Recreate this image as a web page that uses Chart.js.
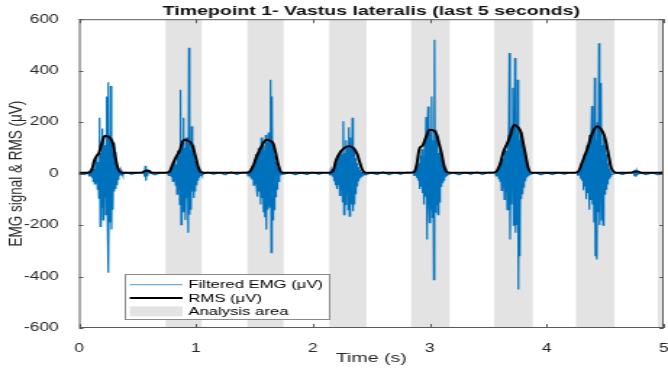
<!DOCTYPE html>
<html>
<head>
<meta charset="utf-8">
<script src="https://cdn.jsdelivr.net/npm/chart.js@4.4.1/dist/chart.umd.min.js"></script>
<style>
  html, body { margin: 0; padding: 0; background: #fff; }
  #chartArea { display: block; }
</style>
</head>
<body>
<!-- the source figure is stretched sideways, so the canvas is drawn narrow and widened by css -->
<canvas id="chartArea" width="461" height="374" style="width:668px;height:374px"></canvas>
<script>
'use strict'

// axis ticks
const xTicks = [0, 1, 2, 3, 4, 5];
const yTicks = [-600, -400, -200, 0, 200, 400, 600];

// grey analysis windows (s)
const bandStart = [0.74, 1.44, 2.14, 2.84, 3.55, 4.25, 4.95];
const bandEnd = [1.05, 1.75, 2.46, 3.17, 3.88, 4.58, 5.0];

// filtered EMG between contractions, one value every 0.05 s from 0 to 5 s
const baseStep = 0.05;
const baseline = [
    3, -4, 5, -3, 4, -5, 3, -4, 5, -3,
    4, -4, 3, -5, 3, -4, 5, -3, 4, -5,
    3, -4, 5, -3, 4, -5, 6, -4, 5, -3,
    4, -5, 3, -4, 5, -3, 4, -5, 3, -4,
    5, -3, 4, -5, 3, -4, 5, -3, 4, -5,
    3, -4, 6, -5, 4, -3, 5, -4, 3, -5,
    4, -3, 5, -4, 3, -5, 4, -3, 6, -4,
    5, -3, 4, -5, 3, -4, 5, -3, 4, -5,
    3, -4, 5, -3, 4, -5, 3, -4, 5, -3,
    4, -5, 3, -4, 5, -4, 3, -4, 3, -5,
    8
];

// filtered EMG during the 7 contractions (and two small blips), one value every 6 ms from burstStart
const burstStep = 0.006;
const burstStart = [0.08, 0.555, 0.76, 1.44, 2.14, 2.86, 3.56, 4.26, 4.745];
const burst1 = [
    6, -9, 12, -8, 20, -14, 26, -30, 18, -40,
    55, -35, 70, -60, 45, -95, 217, -205, 80, -130,
    175, -180, 140, -90, 110, -160, 300, -120, 355, -385,
    150, -190, 340, -217, 90, -140, 120, -70, 85, -60,
    30, -45, 20, -25, 12, -8, 10, -6, 5, -4
];
const blip1 = [6, -12, 30, -28, 18, -10, 5];
const burst2 = [
    5, -7, 10, -6, 18, -12, 22, -30, 40, -25,
    55, -45, 35, -80, 90, -60, 70, -120, 326, -198,
    130, -80, 217, -150, 100, -180, 140, -95, 120, -230,
    489, -160, 90, -140, 184, -70, 110, -95, 50, -70,
    35, -45, 20, -28, 10, -16, 6, -9, 4, -4
];
const burst3 = [
    5, -9, 12, -7, 20, -16, 30, -22, 25, -45,
    55, -38, 75, -50, 60, -90, 100, -70, 85, -120,
    140, -95, 110, -150, 90, -170, 150, -217, 120, -140,
    160, -110, -130, 365, -307, 300, -180, 110, -140, 70,
    -90, 45, -60, 25, -30, 12, -15, 8, -6, 4
];
const burst4 = [
    4, -7, 10, -6, 16, -12, 20, -30, 28, -45,
    40, -60, 70, -45, 55, -85, 90, -60, 75, -110,
    203, -160, 80, -120, 130, -75, 100, -140, 180, -165,
    140, -90, -120, 217, -146, 90, -120, 60, -80, 40,
    -50, 25, -30, 14, -18, 8, -10, 6, -5, 3
];
const burst5 = [
    6, -9, 12, -8, 22, -18, 35, -28, 40, -60,
    70, -50, 95, -75, 60, -120, 130, -90, 220, -256,
    150, 261, -120, -191, 160, -140, 300, -170, 130, -412,
    520, -150, 170, -120, 140, -160, 80, -110, 90, -50,
    65, -35, 40, -25, 22, -12, 12, -7, 5, -4
];
const burst6 = [
    6, -9, 12, -8, 24, -20, 40, -30, 35, -65,
    75, -50, 60, -100, 110, -70, 90, -140, 150, -100,
    469, -256, 140, -120, 180, 334, -200, -160, 449, -230,
    150, -200, 365, -450, 130, -321, 160, -100, 120, -80,
    95, -55, 60, -30, 35, -15, 18, -10, 7, -4
];
const burst7 = [
    5, -8, 12, -7, 22, -20, 40, -28, 35, -65,
    75, -50, 60, -100, 110, -75, 95, -140, 150, -100,
    140, 263, -120, 170, -190, 372, -321, 130, -334, 200,
    -150, 507, -200, 130, 352, -180, 110, -200, 140, -80,
    110, -60, 75, -40, 40, -20, 20, -12, 8, -5
];
const blip2 = [4, -10, 15, -12, 8, -4];
const bursts = [burst1, blip1, burst2, burst3, burst4, burst5, burst6, burst7, blip2];

// RMS envelope
const rmsTime = [
    0, 0.06, 0.09, 0.11, 0.13, 0.15, 0.17, 0.19, 0.21, 0.23, 0.25, 0.27, 0.29, 0.31, 0.33, 0.35, 0.38,
    0.54, 0.56, 0.60, 0.62,
    0.74, 0.77, 0.80, 0.83, 0.86, 0.88, 0.90, 0.93, 0.96, 0.98, 1.00, 1.02, 1.04, 1.07,
    1.43, 1.46, 1.49, 1.52, 1.55, 1.58, 1.60, 1.63, 1.66, 1.68, 1.70, 1.72, 1.74,
    2.14, 2.17, 2.20, 2.23, 2.27, 2.31, 2.35, 2.38, 2.40, 2.42, 2.45,
    2.84, 2.87, 2.89, 2.91, 2.94, 2.97, 3.00, 3.03, 3.06, 3.08, 3.10, 3.12, 3.14, 3.17,
    3.54, 3.57, 3.60, 3.63, 3.66, 3.69, 3.72, 3.75, 3.78, 3.80, 3.82, 3.84, 3.87,
    4.24, 4.27, 4.30, 4.33, 4.35, 4.38, 4.41, 4.43, 4.46, 4.49, 4.51, 4.53, 4.55, 4.58, 4.60,
    4.72, 4.75, 4.78, 4.81, 4.97, 5.0
];
const rmsValue = [
    3, 3, 5, 15, 50, 68, 80, 110, 140, 147, 143, 137, 118, 67, 25, 7, 3,
    3, 10, 11, 3,
    3, 6, 35, 65, 88, 115, 132, 128, 118, 95, 60, 25, 6, 3,
    3, 6, 30, 67, 95, 122, 132, 128, 118, 85, 42, 12, 3,
    3, 8, 54, 80, 100, 106, 98, 75, 45, 18, 3,
    3, 8, 40, 95, 110, 145, 170, 168, 150, 115, 80, 35, 8, 3,
    3, 8, 35, 85, 115, 150, 190, 182, 160, 115, 70, 25, 3,
    3, 8, 40, 75, 100, 145, 175, 184, 175, 150, 115, 70, 25, 5, 3,
    3, 8, 8, 3, 3, 5
];

const FONT = '"Liberation Sans", Arial, Helvetica, sans-serif';
Chart.defaults.font.family = FONT;
Chart.defaults.color = '#262626';

function buildEmg() {
    let pts = [];
    for (let i = 0; i < baseline.length; i++) {
        let t = i * baseStep;
        let inBurst = false;
        for (let b = 0; b < burstStart.length; b++) {
            let end = burstStart[b] + (bursts[b].length - 1) * burstStep;
            if (t >= burstStart[b] - 0.01 && t <= end + 0.01) {
                inBurst = true;
            }
        }
        if (!inBurst) {
            pts.push({x: t, y: baseline[i]});
        }
    }
    for (let b = 0; b < bursts.length; b++) {
        for (let k = 0; k < bursts[b].length; k++) {
            pts.push({x: burstStart[b] + k * burstStep, y: bursts[b][k]});
        }
    }
    pts.sort((a, b) => a.x - b.x);
    return pts;
}

function buildRms() {
    let pts = [];
    for (let i = 0; i < rmsTime.length; i++) {
        pts.push({x: rmsTime[i], y: rmsValue[i]});
    }
    return pts;
}

// grey windows behind the signal
const bandsPlugin = {
    id: 'bands',
    beforeDatasetsDraw(chart) {
        const {ctx, chartArea, scales} = chart;
        ctx.save();
        ctx.fillStyle = '#e3e3e3';
        for (let i = 0; i < bandStart.length; i++) {
            let x0 = scales.x.getPixelForValue(bandStart[i]);
            let x1 = scales.x.getPixelForValue(bandEnd[i]);
            ctx.fillRect(x0, chartArea.top, x1 - x0, chartArea.bottom - chartArea.top);
        }
        ctx.restore();
    }
};

// matlab style box with inward ticks
const boxPlugin = {
    id: 'box',
    afterDatasetsDraw(chart) {
        const {ctx, chartArea: a, scales} = chart;
        ctx.save();
        ctx.strokeStyle = '#5a5a5a';
        ctx.lineWidth = 1;
        ctx.strokeRect(a.left + 0.5, a.top + 0.5, a.right - a.left - 1, a.bottom - a.top - 1);
        ctx.beginPath();
        xTicks.forEach(v => {
            let px = Math.round(scales.x.getPixelForValue(v)) + 0.5;
            ctx.moveTo(px, a.bottom); ctx.lineTo(px, a.bottom - 4);
            ctx.moveTo(px, a.top); ctx.lineTo(px, a.top + 4);
        });
        yTicks.forEach(v => {
            let py = Math.round(scales.y.getPixelForValue(v)) + 0.5;
            ctx.moveTo(a.left, py); ctx.lineTo(a.left + 3, py);
            ctx.moveTo(a.right, py); ctx.lineTo(a.right - 3, py);
        });
        ctx.stroke();
        ctx.restore();
    }
};

// boxed legend in the lower left corner of the axes
const legendPlugin = {
    id: 'boxLegend',
    afterDraw(chart) {
        const {ctx, chartArea: a} = chart;
        const items = chart.data.datasets.map(d => ({label: d.label, type: 'line', color: d.legendColor, width: d.legendWidth}));
        items.push({label: 'Analysis area', type: 'patch', color: '#e3e3e3'});
        ctx.save();
        ctx.font = '11.5px ' + FONT;
        let textW = 0;
        items.forEach(it => { textW = Math.max(textW, ctx.measureText(it.label).width); });
        const pad = 4, lineLen = 36.5, gap = 4, rowH = 13.3;
        const w = pad + lineLen + gap + textW + pad;
        const h = 45;
        const left = a.left + 31;
        const top = a.bottom - 9 - h;
        ctx.fillStyle = '#fff';
        ctx.fillRect(left, top, w, h);
        ctx.strokeStyle = '#8a8a8a';
        ctx.lineWidth = 1;
        ctx.strokeRect(Math.round(left) + 0.5, Math.round(top) + 0.5, Math.round(w), Math.round(h));
        items.forEach((it, i) => {
            let cy = top + 10.7 + i * rowH;
            let x0 = left + pad;
            if (it.type === 'line') {
                ctx.strokeStyle = it.color;
                ctx.lineWidth = it.width;
                ctx.beginPath();
                ctx.moveTo(x0, cy);
                ctx.lineTo(x0 + lineLen, cy);
                ctx.stroke();
            } else {
                ctx.fillStyle = it.color;
                ctx.fillRect(x0, cy - 5, lineLen, 10);
            }
            ctx.fillStyle = '#000';
            ctx.textBaseline = 'middle';
            ctx.fillText(it.label, x0 + lineLen + gap, cy + 0.5);
        });
        ctx.restore();
    }
};

let ctx = document.getElementById('chartArea').getContext('2d');
new Chart(ctx, {
    type: 'line',
    data: {
        datasets: [{
            label: 'Filtered EMG (μV)',
            data: buildEmg(),
            borderColor: '#0072BD',
            legendColor: '#4a9ad0',
            legendWidth: 1,
            borderWidth: 1.2,
            pointRadius: 0,
            tension: 0,
            order: 2
        }, {
            label: 'RMS (μV)',
            data: buildRms(),
            borderColor: '#000000',
            legendColor: '#000000',
            legendWidth: 2,
            borderWidth: 2,
            pointRadius: 0,
            tension: 0.3,
            cubicInterpolationMode: 'monotone',
            order: 1
        }]
    },
    options: {
        responsive: false,
        animation: false,
        layout: { padding: { left: 0, right: 3, top: 0, bottom: 0 } },
        scales: {
            x: {
                type: 'linear',
                min: 0,
                max: 5,
                afterBuildTicks: (scale) => { scale.ticks = xTicks.map(v => ({value: v})); },
                afterFit: (scale) => { scale.height = 46; scale.paddingLeft = 0; scale.paddingRight = 0; },
                grid: { display: false },
                border: { display: false },
                ticks: { font: { size: 12 }, padding: 5, maxRotation: 0 },
                title: { display: true, text: 'Time (s)', font: { size: 13.5 }, padding: { top: 0, bottom: 8 } }
            },
            y: {
                min: -600,
                max: 600,
                afterBuildTicks: (scale) => { scale.ticks = yTicks.map(v => ({value: v})); },
                afterFit: (scale) => { scale.width = 54.5; },
                grid: { display: false },
                border: { display: false },
                ticks: { font: { size: 12 }, padding: 6 },
                title: { display: true, text: 'EMG signal & RMS (μV)', font: { size: 13.5 }, padding: { top: 3, bottom: 0 } }
            }
        },
        plugins: {
            legend: { display: false },
            tooltip: { enabled: false },
            title: {
                display: true,
                text: 'Timepoint 1- Vastus lateralis (last 5 seconds)',
                fullSize: false,
                color: '#111',
                font: { size: 13.5, weight: 'bold' },
                padding: { top: 3, bottom: 0 }
            }
        }
    },
    plugins: [bandsPlugin, boxPlugin, legendPlugin]
});
</script>
</body>
</html>
